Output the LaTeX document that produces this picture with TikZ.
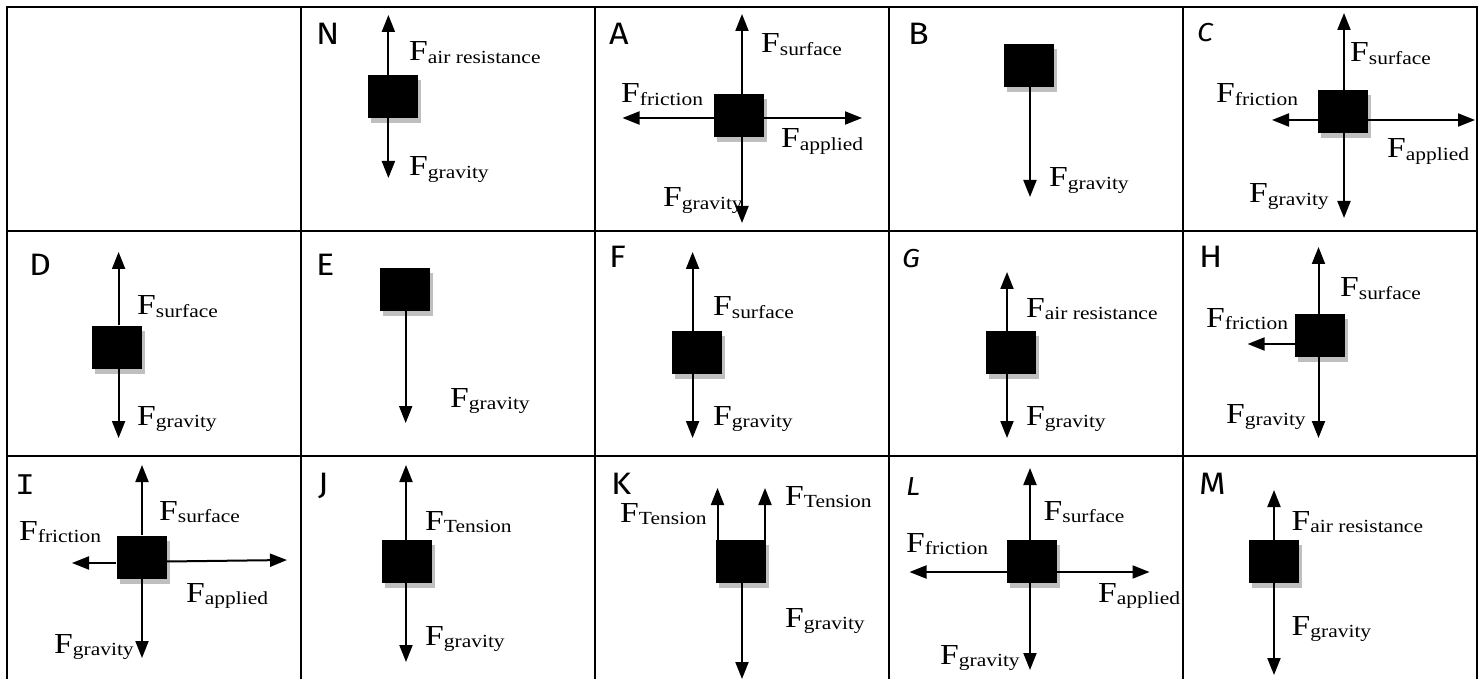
\documentclass[tikz,border=0pt]{standalone}
\usepackage{fontspec}
\setmainfont{Liberation Serif}[FakeStretch=1.16]
\newfontfamily\labfont{Fira Sans}[FakeStretch=1.1]
\newfontfamily\labmono{Liberation Mono}[FakeStretch=1.1]
\usetikzlibrary{arrows.meta,shadows}
\newcommand\frc[1]{{\fontsize{29}{29}\selectfont F}\raisebox{-2.5pt}{\fontsize{18.5}{18.5}\selectfont #1}}
\tikzset{
  grid/.style={line width=2.3pt},
  blk/.style={fill=black,draw=none,inner sep=0pt,minimum width=50pt,minimum height=43pt,
    drop shadow={shadow xshift=3pt,shadow yshift=-5pt,fill=black!25,opacity=1}},
  force/.style={line width=2pt,-{Triangle[length=17pt,width=13pt]}},
  flab/.style={anchor=base west,inner sep=0pt,font=\fontsize{29}{29}\selectfont},
  clab/.style={anchor=base west,inner sep=0pt,font=\labfont\fontsize{31}{31}\selectfont},
  clabsm/.style={anchor=base west,inner sep=0pt,font=\labfont\itshape\fontsize{26}{26}\selectfont},
}
\begin{document}
\begin{tikzpicture}[x=1pt,y=-1pt]
\useasboundingbox[fill=white] (0,0) rectangle (1484,679);
% table grid
\draw[grid] (7,679) -- (7,7) -- (1477,7) -- (1477,679);
\foreach \gx in {301,595,889,1183} \draw[grid] (\gx,7) -- (\gx,679);
\foreach \gy in {231,456} \draw[grid] (7,\gy) -- (1477,\gy);

% ---------- N ----------
\node[clab] (Nl) at (316,45) {N};
\node[blk] (Nb) at (393,96.5) {};
\coordinate (Nu) at (388.4,15); \coordinate (Nd) at (388.4,178);
\draw[force] (Nb.north -| Nu) -- (Nu);
\draw[force] (Nb.south -| Nd) -- (Nd);
\node[flab] (Nt1) at (409,61) {\frc{air resistance}};
\node[flab] (Nt2) at (409,176) {\frc{gravity}};

% ---------- A ----------
\node[clab] (Al) at (609,45) {A};
\node[blk] (Ab) at (739,115.5) {};
\coordinate (Au) at (742,14); \coordinate (Ad) at (742,223);
\coordinate (Al1) at (622.5,118); \coordinate (Ar) at (862,118);
\draw[force] (Ab.north -| Au) -- (Au);
\draw[force] (Ab.south -| Ad) -- (Ad);
\draw[force] (Ab.west |- Al1) -- (Al1);
\draw[force] (Ab.east |- Ar) -- (Ar);
\node[flab] (At1) at (761,53) {\frc{surface}};
\node[flab] (At2) at (621,103) {\frc{friction}};
\node[flab] (At3) at (781,148) {\frc{applied}};
\node[flab] (At4) at (663,207) {\frc{gravity}};

% ---------- B ----------
\node[clab] (Bl) at (908,45) {B};
\node[blk] (Bb) at (1029,65.5) {};
\coordinate (Bd) at (1030,197);
\draw[force] (Bb.south -| Bd) -- (Bd);
\node[flab] (Bt1) at (1049,187) {\frc{gravity}};

% ---------- C ----------
\node[clabsm] (Cl) at (1197,42) {C};
\node[blk] (Cb) at (1343,111.5) {};
\coordinate (Cu) at (1344,13); \coordinate (Cd) at (1344,218);
\coordinate (Cl1) at (1272,120); \coordinate (Cr) at (1475,120);
\draw[force] (Cb.north -| Cu) -- (Cu);
\draw[force] (Cb.south -| Cd) -- (Cd);
\draw[force] (Cb.west |- Cl1) -- (Cl1);
\draw[force] (Cb.east |- Cr) -- (Cr);
\node[flab] (Ct1) at (1350,62) {\frc{surface}};
\node[flab] (Ct2) at (1216,103) {\frc{friction}};
\node[flab] (Ct3) at (1387,158) {\frc{applied}};
\node[flab] (Ct4) at (1249,203) {\frc{gravity}};

% ---------- D ----------
\node[clab] (Dl) at (29,276) {D};
\node[blk] (Db) at (117,347) {};
\coordinate (Du) at (118.6,252); \coordinate (Dd) at (118.6,438);
\draw[force] (Db.north -| Du) -- (Du);
\draw[force] (Db.south -| Dd) -- (Dd);
\node[flab] (Dt1) at (137,315) {\frc{surface}};
\node[flab] (Dt2) at (137,425) {\frc{gravity}};

% ---------- E ----------
\node[clab] (El) at (316,276) {E};
\node[blk] (Eb) at (405,289.5) {};
\coordinate (Ed) at (405.7,423);
\draw[force] (Eb.south -| Ed) -- (Ed);
\node[flab] (Et1) at (450,407) {\frc{gravity}};

% ---------- F ----------
\node[clab] (Fl) at (609,268) {F};
\node[blk] (Fb) at (697,352.5) {};
\coordinate (Fu) at (692.6,252); \coordinate (Fd) at (692.6,438);
\draw[force] (Fb.north -| Fu) -- (Fu);
\draw[force] (Fb.south -| Fd) -- (Fd);
\node[flab] (Ft1) at (713,316) {\frc{surface}};
\node[flab] (Ft2) at (713,425) {\frc{gravity}};

% ---------- G ----------
\node[clabsm] (Gl) at (902,268) {G};
\node[blk] (Gb) at (1011,352.5) {};
\coordinate (Gu) at (1007,272); \coordinate (Gd) at (1007,438);
\draw[force] (Gb.north -| Gu) -- (Gu);
\draw[force] (Gb.south -| Gd) -- (Gd);
\node[flab] (Gt1) at (1026,317) {\frc{air resistance}};
\node[flab] (Gt2) at (1026,425) {\frc{gravity}};

% ---------- H ----------
\node[clab] (Hl) at (1199,268) {H};
\node[blk] (Hb) at (1320,335.5) {};
\coordinate (Hu) at (1318.5,247); \coordinate (Hd) at (1318.5,438);
\coordinate (Hl1) at (1247.6,344);
\draw[force] (Hb.north -| Hu) -- (Hu);
\draw[force] (Hb.south -| Hd) -- (Hd);
\draw[force] (Hb.west |- Hl1) -- (Hl1);
\node[flab] (Ht1) at (1340,297) {\frc{surface}};
\node[flab] (Ht2) at (1206,327) {\frc{friction}};
\node[flab] (Ht3) at (1226,423) {\frc{gravity}};

% ---------- I ----------
\node[anchor=base west,inner sep=0pt,font=\labmono\fontsize{30}{30}\selectfont] (Il) at (15,494) {I};
\node[blk] (Ib) at (141.5,557) {};
\coordinate (Iu) at (142,465); \coordinate (Id) at (142,658);
\coordinate (Il1) at (72,563); \coordinate (Ir) at (287,560);
\draw[force] (Ib.north -| Iu) -- (Iu);
\draw[force] (Ib.south -| Id) -- (Id);
\draw[force] (Ib.west |- Il1) -- (Il1);
\draw[force] (Ib.east |- 0,561.5) -- (Ir);
\node[flab] (It1) at (159,520) {\frc{surface}};
\node[flab] (It2) at (19,540) {\frc{friction}};
\node[flab] (It3) at (186,602) {\frc{applied}};
\node[flab] (It4) at (54,653) {\frc{gravity}};

% ---------- J ----------
\node[clab] (Jl) at (318,494) {J};
\node[blk] (Jb) at (407,561.5) {};
\coordinate (Ju) at (406,465); \coordinate (Jd) at (406,662);
\draw[force] (Jb.north -| Ju) -- (Ju);
\draw[force] (Jb.south -| Jd) -- (Jd);
\node[flab] (Jt1) at (425,530) {\frc{Tension}};
\node[flab] (Jt2) at (425,645) {\frc{gravity}};

% ---------- K ----------
\node[clab] (Kl) at (611,494) {K};
\node[blk] (Kb) at (741,561.5) {};
\coordinate (Ku1) at (717.5,488); \coordinate (Ku2) at (765,488);
\coordinate (Kd) at (742,679);
\draw[force] (Kb.north -| Ku1) -- (Ku1);
\draw[force] (Kb.north -| Ku2) -- (Ku2);
\draw[force] (Kb.south -| Kd) -- (Kd);
\node[flab] (Kt1) at (620,522) {\frc{Tension}};
\node[flab] (Kt2) at (785,505) {\frc{Tension}};
\node[flab] (Kt3) at (785,627) {\frc{gravity}};

% ---------- L ----------
\node[clabsm] (Ll) at (906,495) {L};
\node[blk] (Lb) at (1032,561.5) {};
\coordinate (Lu) at (1030,468); \coordinate (Ld) at (1030,670);
\coordinate (Ll1) at (909.5,572); \coordinate (Lr) at (1149.5,572);
\draw[force] (Lb.north -| Lu) -- (Lu);
\draw[force] (Lb.south -| Ld) -- (Ld);
\draw[force] (Lb.west |- Ll1) -- (Ll1);
\draw[force] (Lb.east |- Lr) -- (Lr);
\node[flab] (Lt1) at (1043.5,520) {\frc{surface}};
\node[flab] (Lt2) at (906,552) {\frc{friction}};
\node[flab] (Lt3) at (1098,602) {\frc{applied}};
\node[flab] (Lt4) at (940,664) {\frc{gravity}};

% ---------- M ----------
\node[clab] (Ml) at (1199,494) {M};
\node[blk] (Mb) at (1274,561.5) {};
\coordinate (Mu) at (1274,490); \coordinate (Md) at (1274,675);
\draw[force] (Mb.north -| Mu) -- (Mu);
\draw[force] (Mb.south -| Md) -- (Md);
\node[flab] (Mt1) at (1291.5,530) {\frc{air resistance}};
\node[flab] (Mt2) at (1291.5,635) {\frc{gravity}};
\end{tikzpicture}
\end{document}
